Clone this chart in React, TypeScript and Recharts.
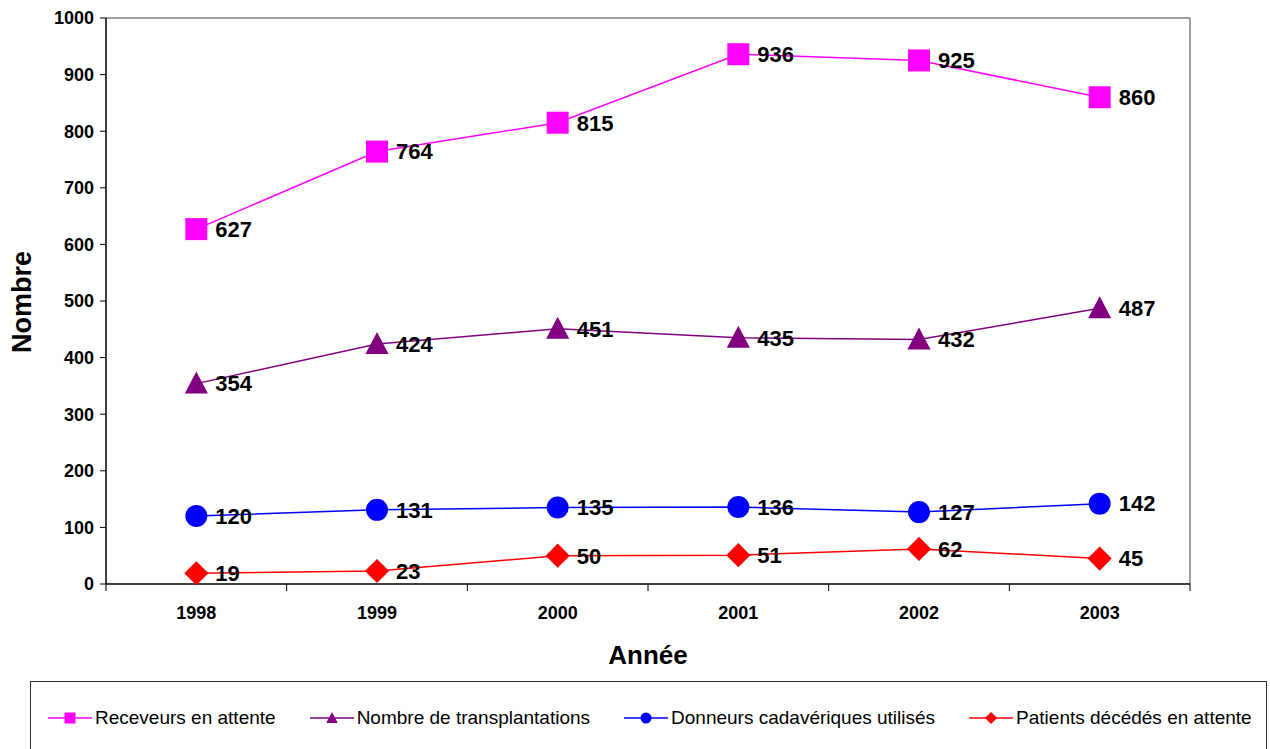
import React from "react";
import { LineChart, Line, XAxis, YAxis, LabelList } from "recharts";

const years = ["1998", "1999", "2000", "2001", "2002", "2003"];
const receveurs = [627, 764, 815, 936, 925, 860];
const transplantations = [354, 424, 451, 435, 432, 487];
const donneurs = [120, 131, 135, 136, 127, 142];
const decedes = [19, 23, 50, 51, 62, 45];
const yTicks = [0, 100, 200, 300, 400, 500, 600, 700, 800, 900, 1000];

const W = 1270;
const H = 749;
const MARGIN = { top: 17, right: 79, left: 10, bottom: 85 };
const Y_AXIS_W = 96;
const PLOT_W = W - MARGIN.left - Y_AXIS_W - MARGIN.right - 1;
const BAND = PLOT_W / years.length;
const FONT = "'Liberation Sans', Arial, sans-serif";

const data = years.map((year, i) => ({
  year,
  receveurs: receveurs[i],
  transplantations: transplantations[i],
  donneurs: donneurs[i],
  decedes: decedes[i],
}));

type Shape = "square" | "triangle" | "circle" | "diamond";

function Marker({ shape, cx, cy, s, color }: { shape: Shape; cx: number; cy: number; s: number; color: string }) {
  if (shape === "square") return <rect x={cx - s} y={cy - s} width={s * 2} height={s * 2} fill={color} />;
  if (shape === "circle") return <circle cx={cx} cy={cy} r={s} fill={color} />;
  if (shape === "triangle")
    return <polygon points={`${cx},${cy - s * 1.1} ${cx - s * 1.05},${cy + s * 0.9} ${cx + s * 1.05},${cy + s * 0.9}`} fill={color} />;
  return <polygon points={`${cx},${cy - s * 1.1} ${cx + s * 1.1},${cy} ${cx},${cy + s * 1.1} ${cx - s * 1.1},${cy}`} fill={color} />;
}

const dot = (shape: Shape, color: string) => (props: any) => (
  <Marker key={props.key ?? `${shape}-${props.index}`} shape={shape} cx={props.cx} cy={props.cy} s={11} color={color} />
);

function XTick(props: any) {
  const { x, y, payload, index } = props;
  const axisY = y - 7;
  const left = x - BAND / 2;
  return (
    <g>
      <line x1={left} y1={axisY} x2={left} y2={axisY + 7} stroke="#000" />
      {index === years.length - 1 && <line x1={x + BAND / 2} y1={axisY} x2={x + BAND / 2} y2={axisY + 7} stroke="#000" />}
      <text x={x} y={axisY + 29} textAnchor="middle" dominantBaseline="central" fontFamily={FONT} fontWeight="bold" fontSize={18} fill="#000">
        {payload.value}
      </text>
    </g>
  );
}

const series = [
  { key: "receveurs", name: "Receveurs en attente", color: "#FF00FF", shape: "square" as Shape },
  { key: "transplantations", name: "Nombre de transplantations", color: "#800080", shape: "triangle" as Shape },
  { key: "donneurs", name: "Donneurs cadavériques utilisés", color: "#0000FF", shape: "circle" as Shape },
  { key: "decedes", name: "Patients décédés en attente", color: "#FF0000", shape: "diamond" as Shape },
];

function LegendIcon({ shape, color }: { shape: Shape; color: string }) {
  return (
    <svg width={44} height={14} style={{ display: "block" }}>
      <line x1={0} y1={7} x2={44} y2={7} stroke={color} strokeWidth={1.5} />
      <Marker shape={shape} cx={22} cy={7} s={5.5} color={color} />
    </svg>
  );
}

export default function App() {
  return (
    <div style={{ position: "relative", width: W, height: H, overflow: "hidden", background: "#fff" }}>
      <style>{`body{margin:0}`}</style>
      <LineChart width={W} height={H} data={data} margin={MARGIN}>
        {/* grey frame on top and right */}
        <XAxis
          xAxisId="top"
          orientation="top"
          dataKey="year"
          height={1}
          padding={{ left: BAND / 2, right: BAND / 2 }}
          tick={false}
          tickLine={false}
          axisLine={{ stroke: "#808080", strokeWidth: 1.5 }}
        />
        <YAxis
          yAxisId="right"
          orientation="right"
          width={1}
          domain={[0, 1000]}
          tick={false}
          tickLine={false}
          axisLine={{ stroke: "#808080", strokeWidth: 1.5 }}
        />
        <XAxis
          dataKey="year"
          height={80}
          padding={{ left: BAND / 2, right: BAND / 2 }}
          tickSize={7}
          tickMargin={0}
          tickLine={false}
          axisLine={{ stroke: "#000", strokeWidth: 1.5 }}
          tick={<XTick />}
          interval={0}
          label={{ value: "Année", position: "insideBottom", offset: 0, style: { fontFamily: FONT, fontWeight: "bold", fontSize: 26, fill: "#000" } }}
        />
        <YAxis
          width={Y_AXIS_W}
          domain={[0, 1000]}
          ticks={yTicks}
          interval={0}
          tickSize={6}
          tickMargin={6}
          axisLine={{ stroke: "#000", strokeWidth: 1.5 }}
          tickLine={{ stroke: "#000" }}
          tick={{ fontFamily: FONT, fontWeight: "bold", fontSize: 18, fill: "#000" }}
          label={{
            content: () => (
              <text transform="translate(22,302) rotate(-90)" textAnchor="middle" dominantBaseline="central" fontFamily={FONT} fontWeight="bold" fontSize={27} fill="#000">
                Nombre
              </text>
            ),
          }}
        />
        {series.map((s) => (
          <Line
            key={s.key}
            dataKey={s.key}
            name={s.name}
            stroke={s.color}
            strokeWidth={1.5}
            isAnimationActive={false}
            dot={dot(s.shape, s.color)}
            activeDot={false}
          >
            <LabelList dataKey={s.key} position="right" offset={19} style={{ fontFamily: FONT, fontWeight: "bold", fontSize: 22, fill: "#000" }} />
          </Line>
        ))}
      </LineChart>
      <div
        style={{
          position: "absolute",
          left: 30,
          top: 681,
          width: 1237,
          height: 90,
          border: "1px solid #333",
          boxSizing: "border-box",
          fontFamily: FONT,
          fontSize: 19,
          color: "#000",
        }}
      >
        <div style={{ position: "absolute", top: 25, left: 17, display: "flex", alignItems: "center", gap: 34 }}>
          {series.map((s) => (
            <div key={s.key} style={{ display: "flex", alignItems: "center", gap: 3 }}>
              <LegendIcon shape={s.shape} color={s.color} />
              <span style={{ whiteSpace: "nowrap" }}>{s.name}</span>
            </div>
          ))}
        </div>
      </div>
    </div>
  );
}
